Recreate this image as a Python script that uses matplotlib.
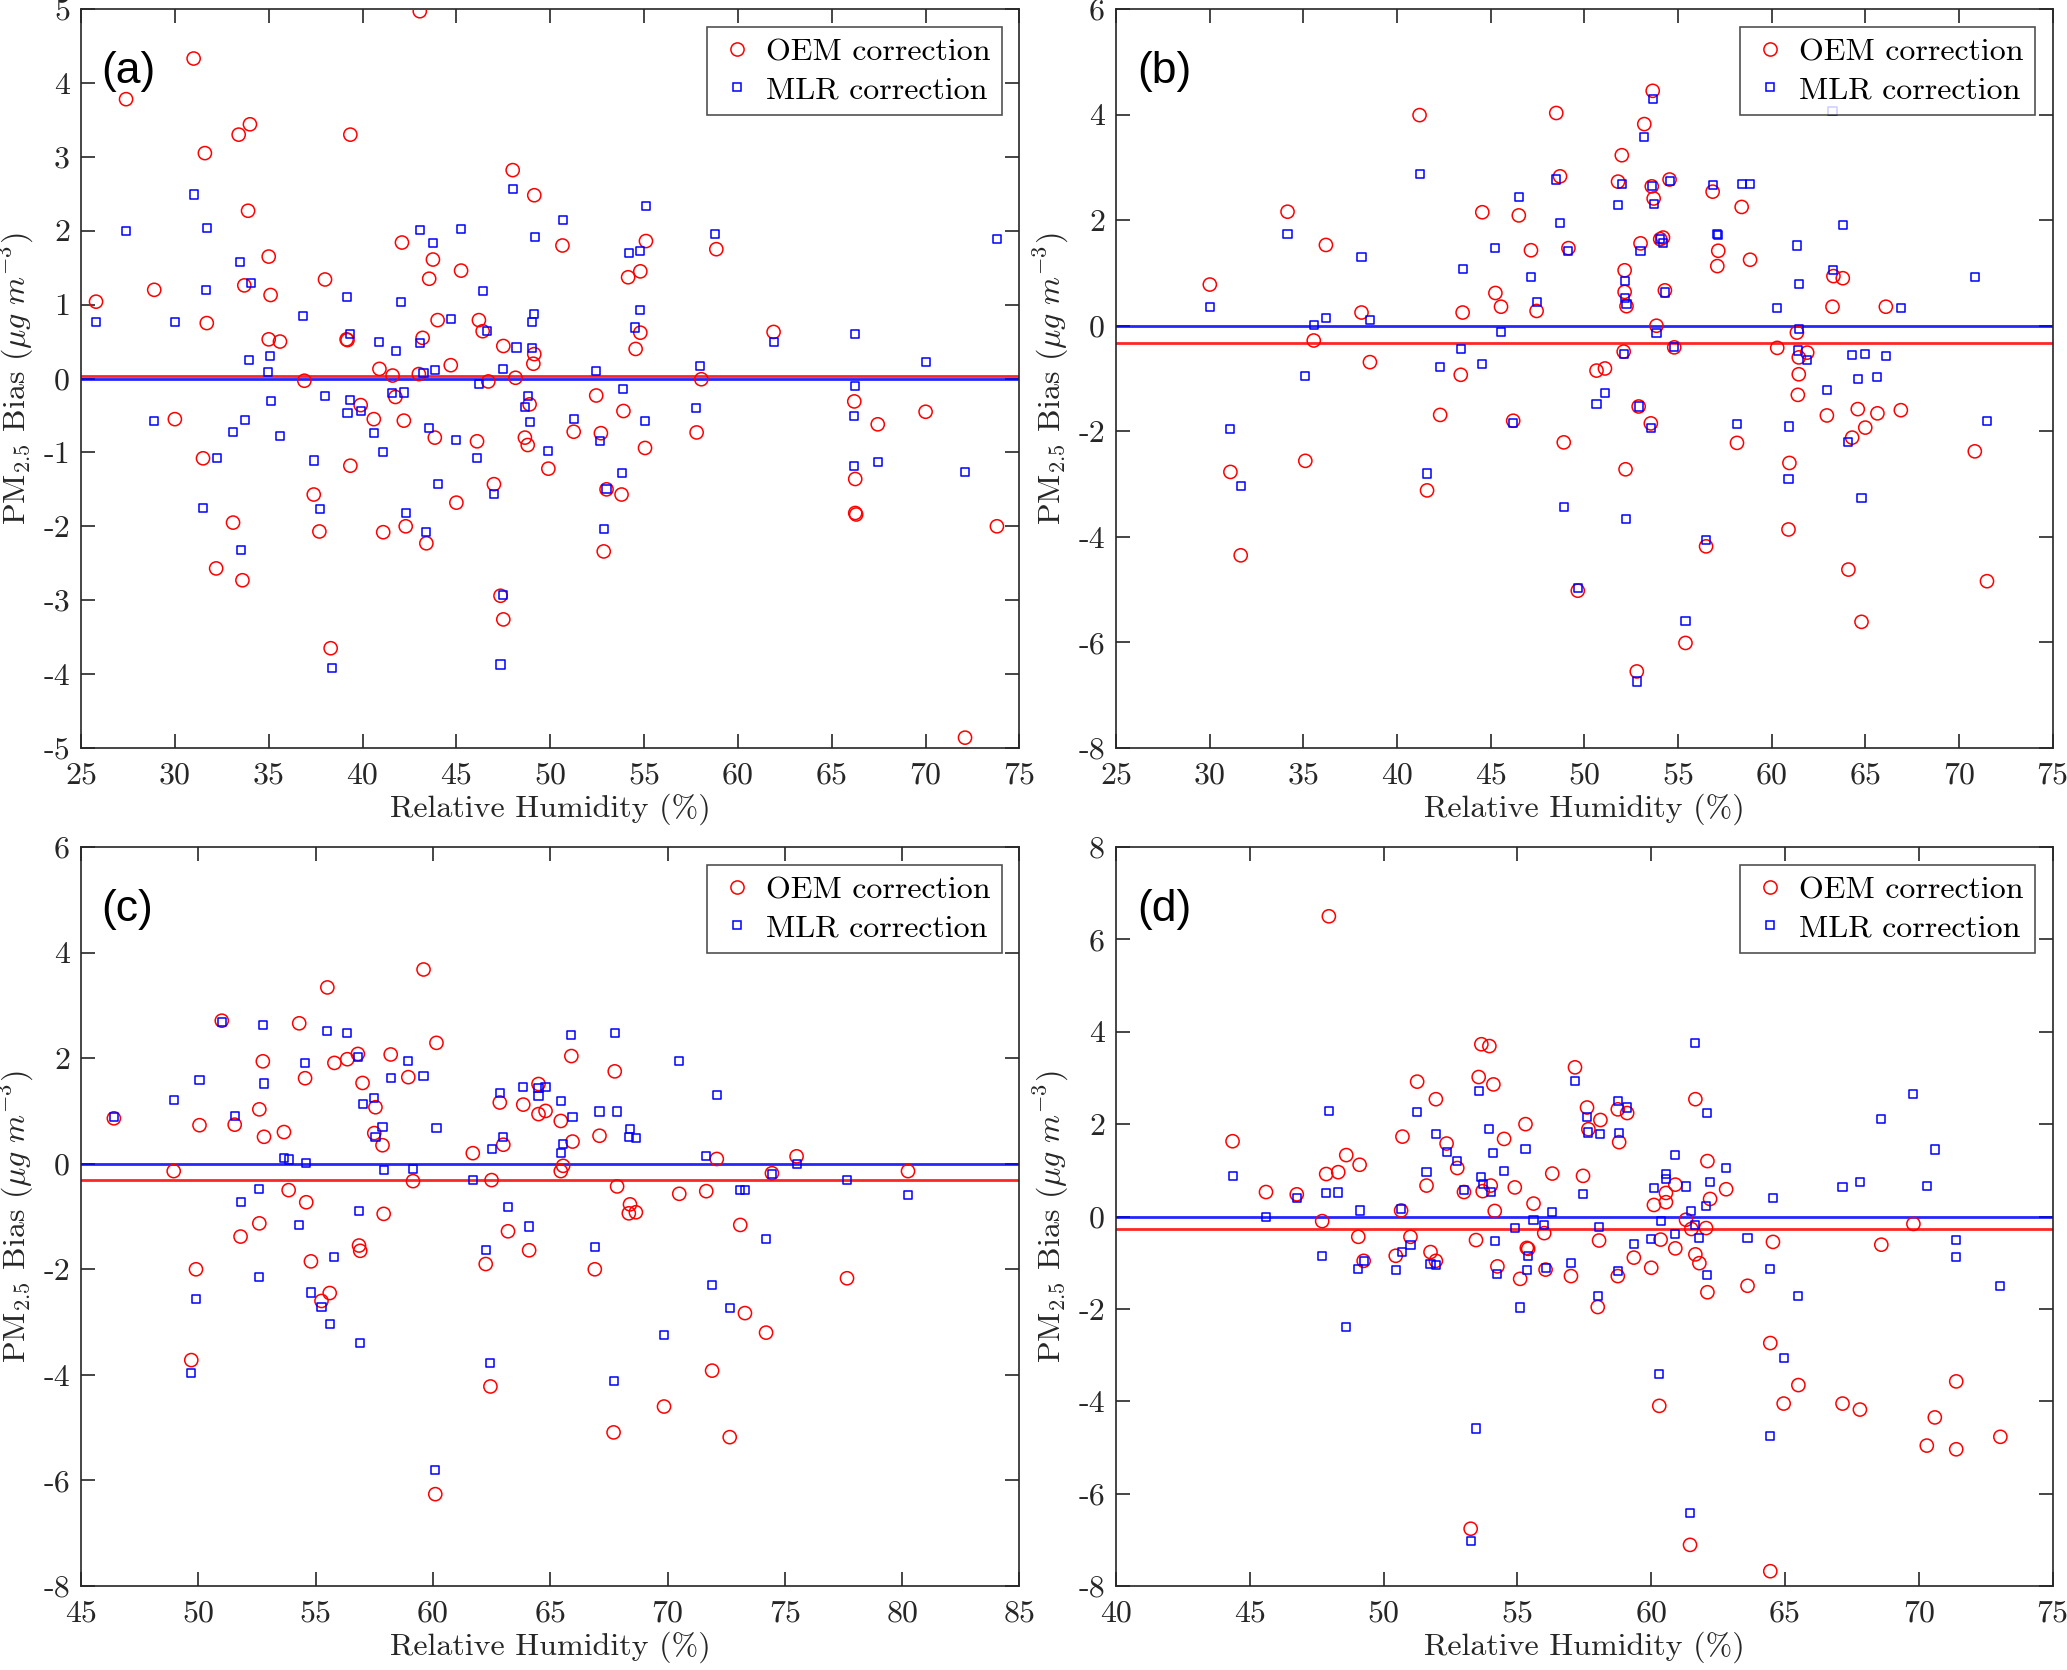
import matplotlib
matplotlib.use("Agg")
import matplotlib.pyplot as plt
from matplotlib.lines import Line2D

plt.rcParams['font.family'] = ['cmr10']
plt.rcParams['mathtext.fontset'] = 'cm'
plt.rcParams['axes.unicode_minus'] = False
plt.rcParams['axes.formatter.use_mathtext'] = False

# ---- panel (a) ----
a_oem_rh = [25.8, 27.4, 28.9, 30.0, 31.0, 31.6, 31.7, 31.5, 32.2, 33.1, 33.4, 34.0, 33.9, 33.7, 33.6,
            35.0, 35.1, 35.0, 35.6, 36.9, 37.4, 37.7, 38.0, 38.3, 39.35, 39.15, 39.2, 39.9, 39.35, 40.6,
            40.9, 41.1, 41.6, 41.75, 42.1, 42.2, 42.3, 43.2, 43.0, 43.05, 43.55, 43.75, 43.4, 43.85, 44.0,
            44.7, 45.0, 45.25, 46.1, 46.2, 46.4, 46.7, 47.0, 47.35, 47.5, 47.5, 48.0, 48.15, 48.65, 48.8,
            48.9, 49.15, 49.1, 49.15, 49.9, 50.65, 51.25, 52.45, 52.7, 52.85, 53.0, 53.8, 53.9, 54.15, 54.55,
            54.8, 54.8, 55.1, 55.05, 57.8, 58.05, 58.85, 61.9, 66.2, 66.25, 66.25, 66.3, 67.45, 70.0, 72.1,
            73.8]
a_oem_bias = [1.04, 3.78, 1.2, -0.55, 4.33, 3.05, 0.75, -1.08, -2.57, -1.95, 3.3, 3.44, 2.27, 1.26, -2.73,
              1.65, 1.13, 0.53, 0.5, -0.03, -1.57, -2.07, 1.34, -3.65, 3.3, 0.53, 0.52, -0.36, -1.18, -0.55,
              0.13, -2.08, 0.04, -0.25, 1.84, -0.57, -2.0, 0.55, 0.06, 4.97, 1.35, 1.61, -2.23, -0.8, 0.79,
              0.18, -1.68, 1.46, -0.85, 0.79, 0.64, -0.04, -1.43, -2.94, -3.26, 0.44, 2.82, 0.01, -0.8, -0.9,
              -0.35, 2.48, 0.2, 0.33, -1.22, 1.8, -0.72, -0.23, -0.74, -2.34, -1.5, -1.57, -0.44, 1.37, 0.4,
              1.45, 0.62, 1.86, -0.94, -0.73, -0.01, 1.75, 0.63, -0.31, -1.36, -1.82, -1.84, -0.62, -0.45, -4.86,
              -2.0]
a_mlr_rh = [25.8, 27.4, 28.9, 30.0, 31.0, 31.7, 31.65, 31.5, 32.25, 33.1, 33.45, 34.05, 33.95, 33.75, 33.5,
            34.95, 35.05, 35.1, 35.6, 36.85, 37.4, 37.75, 38.0, 38.35, 39.15, 39.35, 39.35, 39.2, 39.9, 40.6,
            40.9, 41.1, 41.55, 41.8, 42.05, 42.2, 42.3, 43.05, 43.05, 43.25, 43.75, 43.85, 43.55, 43.4, 44.0,
            44.7, 45.0, 45.25, 46.4, 46.65, 46.2, 46.1, 47.0, 47.5, 47.35, 47.5, 48.0, 48.2, 48.65, 48.8,
            48.9, 49.05, 49.15, 49.05, 49.2, 49.9, 50.7, 51.25, 52.45, 52.65, 52.85, 53.0, 53.8, 53.9, 54.2,
            54.5, 54.8, 54.8, 55.1, 55.05, 57.75, 58.0, 58.8, 61.9, 66.25, 66.25, 66.2, 66.2, 67.45, 70.0,
            72.1, 73.8]
a_mlr_bias = [0.77, 2.0, -0.57, 0.76, 2.49, 2.04, 1.2, -1.75, -1.07, -0.72, 1.58, 1.29, 0.25, -0.56, -2.32,
              0.09, 0.31, -0.31, -0.78, 0.85, -1.11, -1.77, -0.24, -3.92, 1.1, 0.6, -0.29, -0.47, -0.44, -0.74,
              0.49, -0.99, -0.2, 0.37, 1.03, -0.19, -1.82, 2.01, 0.48, 0.07, 1.83, 0.12, -0.67, -2.08, -1.43,
              0.8, -0.83, 2.02, 1.19, 0.64, -0.07, -1.08, -1.56, -2.93, -3.87, 0.13, 2.56, 0.42, -0.39, -0.24,
              -0.59, 0.76, 0.87, 0.41, 1.92, -0.98, 2.15, -0.55, 0.1, -0.84, -2.04, -1.5, -1.28, -0.14, 1.7,
              0.69, 0.93, 1.72, 2.34, -0.57, -0.4, 0.17, 1.96, 0.5, 0.6, -0.1, -0.51, -1.19, -1.13, 0.22,
              -1.27, 1.89]

# ---- panel (b) ----
b_rh = [30.0, 31.1, 31.65, 34.15, 35.1, 35.55, 36.2, 38.1, 38.55, 41.2, 41.6, 42.3, 43.4, 43.5, 44.55,
        45.25, 45.55, 46.2, 46.5, 47.15, 47.45, 48.5, 48.7, 48.9, 49.15, 49.65, 50.65, 51.1, 51.8, 52.0,
        52.15, 52.15, 52.25, 52.1, 52.2, 52.8, 52.9, 53.0, 53.2, 53.6, 53.65, 53.7, 53.55, 53.85, 54.05,
        54.2, 54.3, 54.55, 54.8, 55.4, 56.5, 56.85, 57.1, 57.15, 58.15, 58.4, 58.85, 60.3, 60.9, 60.95,
        61.35, 61.45, 61.45, 61.4, 61.9, 62.95, 63.25, 63.3, 63.8, 64.1, 64.3, 64.6, 64.8, 65.0, 65.65,
        66.1, 66.9, 70.85, 71.5]
b_oem_bias = [0.78, -2.77, -4.35, 2.16, -2.56, -0.28, 1.53, 0.25, -0.69, 3.99, -3.12, -1.69, -0.93, 0.25, 2.15,
              0.62, 0.36, -1.8, 2.09, 1.43, 0.28, 4.03, 2.83, -2.21, 1.47, -5.02, -0.85, -0.81, 2.73, 3.23,
              1.05, 0.64, 0.37, -0.49, -2.72, -6.55, -1.53, 1.56, 3.82, 2.64, 4.45, 2.41, -1.85, 0.0, 1.64,
              1.67, 0.67, 2.77, -0.41, -6.01, -4.18, 2.54, 1.13, 1.42, -2.22, 2.25, 1.25, -0.42, -3.86, -2.6,
              -0.13, -0.6, -0.92, -1.31, -0.51, -1.7, 0.36, 0.94, 0.9, -4.62, -2.12, -1.58, -5.61, -1.93, -1.66,
              0.36, -1.6, -2.38, -4.84]
b_mlr_bias = [0.35, -1.96, -3.04, 1.73, -0.96, 0.01, 0.14, 1.3, 0.11, 2.87, -2.8, -0.79, -0.44, 1.08, -0.73,
              1.48, -0.12, -1.84, 2.44, 0.92, 0.45, 2.77, 1.95, -3.44, 1.42, -4.97, -1.48, -1.28, 2.28, 2.69,
              0.85, 0.53, 0.42, -0.53, -3.67, -6.74, -1.53, 1.42, 3.58, 2.64, 4.3, 2.31, -1.94, -0.14, 1.64,
              1.56, 0.63, 2.75, -0.4, -5.59, -4.06, 2.67, 1.73, 1.72, -1.87, 2.68, 2.68, 0.34, -2.91, -1.91,
              1.52, -0.07, 0.79, -0.47, -0.65, -1.22, 4.07, 1.05, 1.91, -2.21, -0.55, -1.01, -3.26, -0.53, -0.98,
              -0.57, 0.33, 0.93, -1.8]

# ---- panel (c) ----
c_rh = [46.4, 48.95, 49.7, 49.9, 50.05, 51.0, 51.55, 51.8, 52.6, 52.6, 52.75, 52.8, 53.65, 53.85, 54.3,
        54.55, 54.6, 54.8, 55.25, 55.5, 55.6, 55.8, 56.35, 56.8, 56.85, 56.9, 57.0, 57.5, 57.55, 57.85,
        57.9, 58.2, 58.95, 59.15, 59.6, 60.1, 60.15, 61.7, 62.25, 62.5, 62.45, 62.85, 63.0, 63.2, 63.85,
        64.1, 64.5, 64.5, 64.8, 65.45, 65.45, 65.55, 65.9, 65.95, 66.9, 67.1, 67.7, 67.75, 67.85, 68.4,
        68.35, 68.65, 69.85, 70.5, 71.65, 71.9, 72.1, 72.65, 73.1, 73.3, 74.2, 74.45, 75.5, 77.65, 80.25]
c_oem_bias = [0.86, -0.14, -3.72, -2.0, 0.73, 2.71, 0.74, -1.38, 1.03, -1.13, 1.94, 0.51, 0.6, -0.5, 2.66,
              1.62, -0.73, -1.85, -2.6, 3.34, -2.45, 1.91, 1.98, 2.08, -1.55, -1.65, 1.53, 0.58, 1.07, 0.35,
              -0.95, 2.07, 1.64, -0.33, 3.68, -6.26, 2.29, 0.2, -1.9, -0.31, -4.22, 1.16, 0.36, -1.28, 1.12,
              -1.64, 1.51, 0.94, 1.0, 0.81, -0.14, -0.04, 2.04, 0.42, -2.0, 0.53, -5.09, 1.75, -0.43, -0.77,
              -0.94, -0.92, -4.6, -0.57, -0.52, -3.92, 0.09, -5.18, -1.16, -2.83, -3.2, -0.18, 0.14, -2.17, -0.14]
c_mlr_bias = [0.89, 1.2, -3.97, -2.56, 1.58, 2.69, 0.91, -0.73, -0.48, -2.14, 2.62, 1.52, 0.11, 0.08, -1.16,
              1.9, 0.02, -2.44, -2.71, 2.51, -3.03, -1.76, 2.47, 2.02, -0.89, -3.39, 1.14, 1.25, 0.5, 0.69,
              -0.12, 1.62, 1.95, -0.1, 1.66, -5.8, 0.67, -0.3, -1.64, 0.28, -3.78, 1.34, 0.51, -0.82, 1.45,
              -1.19, 1.44, 1.28, 1.46, 1.19, 0.21, 0.37, 2.44, 0.88, -1.58, 0.99, -4.11, 2.47, 0.99, 0.66,
              0.51, 0.48, -3.25, 1.94, 0.15, -2.3, 1.31, -2.74, -0.49, -0.49, -1.42, -0.2, -0.01, -0.3, -0.6]

# ---- panel (d) ----
d_rh = [44.35, 45.6, 46.75, 47.7, 47.85, 47.95, 48.3, 48.6, 49.05, 49.1, 49.25, 50.45, 50.65, 50.7, 51.0,
        51.25, 51.6, 51.75, 51.95, 51.95, 52.35, 52.75, 53.0, 53.25, 53.45, 53.55, 53.65, 53.7, 53.95, 54.0,
        54.1, 54.15, 54.25, 54.5, 54.9, 55.1, 55.3, 55.35, 55.4, 55.6, 56.0, 56.05, 56.3, 57.0, 57.15,
        57.45, 57.6, 57.65, 58.0, 58.05, 58.1, 58.75, 58.75, 58.8, 59.1, 59.35, 60.0, 60.1, 60.3, 60.35,
        60.55, 60.55, 60.9, 60.9, 61.3, 61.45, 61.5, 61.65, 61.65, 61.8, 62.05, 62.1, 62.1, 62.2, 62.8,
        63.6, 64.45, 64.45, 64.55, 64.95, 65.5, 67.15, 67.8, 68.6, 69.8, 70.3, 70.6, 71.4, 71.4, 73.05]
d_oem_bias = [1.63, 0.53, 0.48, -0.1, 0.92, 6.5, 0.96, 1.33, -0.44, 1.12, -0.96, -0.85, 0.13, 1.73, -0.44,
              2.92, 0.67, -0.77, 2.54, -0.96, 1.58, 1.05, 0.53, -6.76, -0.51, 3.02, 3.73, 0.55, 3.69, 0.67,
              2.86, 0.12, -1.08, 1.68, 0.63, -1.35, 2.0, -0.68, -0.7, 0.28, -0.36, -1.15, 0.93, -1.29, 3.23,
              0.88, 2.36, 1.89, -1.96, -0.52, 2.09, -1.29, 2.32, 1.61, 2.24, -0.89, -1.11, 0.25, -4.1, -0.5,
              0.51, 0.31, 0.69, -0.69, -0.07, -7.11, -0.27, 2.54, -0.82, -1.01, -0.25, -1.64, 1.2, 0.38, 0.59,
              -1.5, -2.74, -7.68, -0.55, -4.05, -3.65, -4.05, -4.18, -0.61, -0.16, -4.96, -4.35, -5.04, -3.57, -4.77]
d_mlr_bias = [0.88, -0.02, 0.41, -0.85, 0.51, 2.29, 0.52, -2.39, -1.13, 0.13, -0.96, -1.16, 0.16, -0.77, -0.61,
              2.26, 0.96, -1.03, 1.78, -1.05, 1.39, 1.21, 0.58, -7.02, -4.59, 2.71, 0.86, 0.7, 1.89, 0.54,
              1.37, -0.53, -1.24, 0.99, -0.25, -1.97, 1.46, -1.16, -0.86, -0.08, -0.18, -1.12, 0.09, -1.0, 2.94,
              0.48, 2.16, 1.82, -1.73, -0.22, 1.78, -1.18, 2.5, 1.81, 2.36, -0.6, -0.48, 0.61, -3.41, -0.1,
              0.82, 0.92, 1.33, -0.38, 0.65, -6.41, 0.12, 3.76, -0.18, -0.46, 0.22, -1.26, 2.25, 0.75, 1.05,
              -0.46, -1.13, -4.76, 0.41, -3.07, -1.72, 0.63, 0.74, 2.12, 2.65, 0.66, 1.45, -0.88, -0.5, -1.5]

# mean bias lines
oem_mean = [0.035, -0.33, -0.31, -0.28]
mlr_mean = [0.0, 0.0, 0.0, 0.0]

panel_labels = ['(a)', '(b)', '(c)', '(d)']
xlims = [(25, 75), (25, 75), (45, 85), (40, 75)]
ylims = [(-5, 5), (-8, 6), (-8, 6), (-8, 8)]
yticks = [range(-5, 6, 1), range(-8, 7, 2), range(-8, 7, 2), range(-8, 9, 2)]

panels = [
    (a_oem_rh, a_oem_bias, a_mlr_rh, a_mlr_bias),
    (b_rh, b_oem_bias, b_rh, b_mlr_bias),
    (c_rh, c_oem_bias, c_rh, c_mlr_bias),
    (d_rh, d_oem_bias, d_rh, d_mlr_bias),
]

# axes boxes [left, bottom, width, height] in figure fraction
boxes = [
    [0.0392, 0.5521, 0.4540, 0.4425],
    [0.5400, 0.5521, 0.4530, 0.4425],
    [0.0392, 0.0503, 0.4540, 0.4425],
    [0.5400, 0.0503, 0.4530, 0.4425],
]

fig = plt.figure(figsize=(20.67, 16.7), dpi=100)
edge = '#262626'
fs = 23

for i in range(4):
    ax = fig.add_axes(boxes[i])
    x_oem, y_oem, x_mlr, y_mlr = panels[i]
    ax.scatter(x_oem, y_oem, s=90, facecolors='none', edgecolors='#ff0000', linewidths=1.1, zorder=3)
    ax.scatter(x_mlr, y_mlr, s=34, marker='s', facecolors='none', edgecolors='#0000ff', linewidths=1.1, zorder=3)
    ax.axhline(oem_mean[i], color='#ff0000', lw=2.0, alpha=0.85, zorder=2)
    ax.axhline(mlr_mean[i], color='#0000ff', lw=2.0, alpha=0.85, zorder=2)
    ax.set_xlim(*xlims[i])
    ax.set_ylim(*ylims[i])
    ax.set_xticks(list(range(xlims[i][0], xlims[i][1] + 1, 5)))
    ax.set_yticks(list(yticks[i]))
    ax.tick_params(direction='in', length=10, width=1.2, top=True, right=True,
                   labelsize=fs, colors=edge)
    ax.tick_params(axis='x', pad=10)
    ax.tick_params(axis='y', pad=8)
    for sp in ax.spines.values():
        sp.set_color(edge)
        sp.set_linewidth(1.2)
    ax.set_xlabel('Relative Humidity (%)', fontsize=fs, color=edge, labelpad=3)
    ax.set_ylabel(r'PM$_{2.5}$ Bias ($\mu g\ m^{-3}$)', fontsize=fs, color=edge)
    ax.yaxis.set_label_coords(-0.048, 0.5)
    ax.text(0.022, 0.915, panel_labels[i], transform=ax.transAxes, fontsize=32,
            family='Liberation Sans', va='center', ha='left')
    handles = [
        Line2D([], [], ls='none', marker='o', markersize=9.5, mfc='none', mec='#ff0000', mew=1.1),
        Line2D([], [], ls='none', marker='s', markersize=6, mfc='none', mec='#0000ff', mew=1.1),
    ]
    leg = ax.legend(handles, ['OEM correction', 'MLR correction'], loc='upper right',
                    fontsize=fs, frameon=True, fancybox=False, edgecolor=edge,
                    borderpad=0.35, handletextpad=0.3, handlelength=1.2,
                    labelspacing=0.3, borderaxespad=0.55)
    leg.get_frame().set_linewidth(1.2)

fig.savefig('out.png', dpi=100)
